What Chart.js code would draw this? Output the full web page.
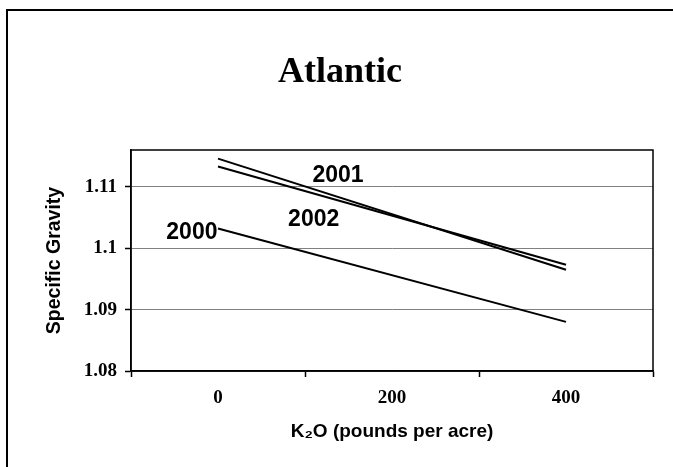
<!DOCTYPE html>
<html lang="en">
<head>
  <meta charset="UTF-8" />
  <title>Atlantic</title>
  <style>
    *{box-sizing:border-box}
    body{margin:0;background:#fff}
    #wrap{width:673px;height:467px;position:relative}
  </style>
</head>
<body>
  <div id="wrap"><canvas id="chart" width="673" height="467"></canvas></div>

  <script src="https://cdn.jsdelivr.net/npm/chart.js"></script>
  <script>
  const rates = ['0', '200', '400'];
  const sg2000 = [1.1032, null, 1.0880];
  const sg2001 = [1.1146, null, 1.0965];
  const sg2002 = [1.1133, null, 1.0973];
  const yTicks = [1.08, 1.09, 1.1, 1.11];
  const years = ['2000', '2001', '2002'];
  // where the year labels sit, in axis units (category index, specific gravity)
  const yearAt = [[-0.15, 1.1026], [0.69, 1.1118], [0.55, 1.1047]];

  const serif = "'Liberation Serif','Times New Roman',serif";
  const sans = "'Liberation Sans',Arial,sans-serif";

  const frame = {
    id: 'frame',
    beforeDraw(c) {
      const ctx = c.ctx;
      ctx.save();
      ctx.fillStyle = '#fff';
      ctx.fillRect(0, 0, c.width, c.height);
      ctx.restore();
    },
    afterDraw(c) {
      const ctx = c.ctx, a = c.chartArea;
      const x = c.scales.x, y = c.scales.y;
      ctx.save();
      // outer border
      ctx.strokeStyle = '#000';
      ctx.lineWidth = 2;
      ctx.strokeRect(7, 10, c.width + 20, c.height + 20);
      // plot box
      ctx.lineWidth = 1.5;
      ctx.strokeRect(a.left, a.top, a.right - a.left, a.bottom - a.top);
      // title
      ctx.fillStyle = '#000';
      ctx.font = 'bold 36px ' + serif;
      ctx.textAlign = 'center';
      ctx.textBaseline = 'alphabetic';
      ctx.fillText('Atlantic', 340, 82);
      // year labels
      ctx.font = 'bold 23px ' + sans;
      ctx.textBaseline = 'middle';
      years.forEach((t, i) => {
        ctx.fillText(t, x.getPixelForValue(yearAt[i][0]), y.getPixelForValue(yearAt[i][1]));
      });
      ctx.restore();
    }
  };

  const lineDs = (label, data) => ({
    label, data, borderColor: '#000', borderWidth: 2, pointRadius: 0, spanGaps: true, tension: 0, fill: false
  });

  new Chart(document.getElementById('chart'), {
    type: 'line',
    data: {
      labels: rates,
      datasets: [lineDs('2000', sg2000), lineDs('2001', sg2001), lineDs('2002', sg2002)]
    },
    options: {
      responsive: false,
      animation: false,
      layout: { padding: { left: 8, right: 20, top: 150, bottom: 0 } },
      plugins: { legend: { display: false }, tooltip: { enabled: false } },
      scales: {
        x: {
          type: 'category',
          offset: true,
          afterFit: s => { s.height = 96; },
          grid: { offset: true, drawOnChartArea: false, tickLength: 6, tickColor: '#000', tickWidth: 1.5 },
          border: { display: true, color: '#000', width: 1.5 },
          ticks: { color: '#000', padding: 10, font: { family: serif, size: 19, weight: 'bold' } },
          title: {
            display: true, text: 'K₂O (pounds per acre)', color: '#000',
            font: { family: sans, size: 19, weight: 'bold', lineHeight: 1.2 },
            padding: { top: 0, bottom: 24 }
          }
        },
        y: {
          min: 1.08,
          max: 1.116,
          afterFit: s => { s.width = 123; },
          afterBuildTicks: s => { s.ticks = yTicks.map(v => ({ value: v })); },
          grid: { color: '#808080', lineWidth: 1, tickLength: 6, tickColor: '#000', tickWidth: 1.5 },
          border: { display: true, color: '#000', width: 1.5 },
          ticks: {
            color: '#000', padding: 8, font: { family: serif, size: 19, weight: 'bold' },
            callback: v => String(v)
          },
          title: {
            display: true, text: 'Specific Gravity', color: '#000',
            font: { family: sans, size: 19.5, weight: 'bold', lineHeight: 1.2 },
            padding: { top: 35, bottom: 0 }
          }
        }
      }
    },
    plugins: [frame]
  });
  </script>
</body>
</html>
